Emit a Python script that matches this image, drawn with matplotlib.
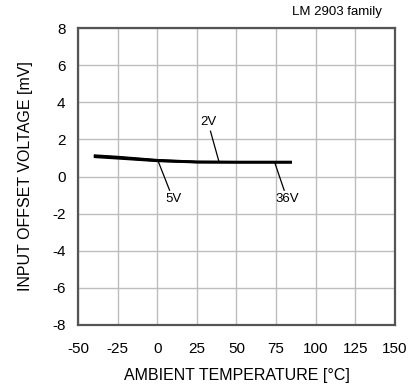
import matplotlib.pyplot as plt

plt.rcParams['font.family'] = ['Liberation Sans', 'DejaVu Sans']
plt.rcParams['axes.unicode_minus'] = False

# input offset voltage vs ambient temperature, one curve per supply voltage
temp = [-40, -25, 0, 25, 50, 85]
vio_2v = [1.10, 1.02, 0.86, 0.78, 0.77, 0.77]
vio_5v = [1.06, 0.98, 0.84, 0.77, 0.77, 0.77]
vio_36v = [1.13, 1.05, 0.88, 0.79, 0.78, 0.78]

xticks = [-50, -25, 0, 25, 50, 75, 100, 125, 150]
yticks = [-8, -6, -4, -2, 0, 2, 4, 6, 8]

fig = plt.figure(figsize=(4.14, 3.9), dpi=100)
ax = fig.add_axes([78/414, 1 - 325/390, 317/414, 297/390])

for v in (vio_2v, vio_5v, vio_36v):
    ax.plot(temp, v, color='black', lw=1.8, solid_capstyle='butt')

ax.set_xlim(-50, 150)
ax.set_ylim(-8, 8)
ax.set_xticks(xticks)
ax.set_yticks(yticks)
ax.grid(True, color='#bdbdbd', lw=1.0)
ax.set_axisbelow(True)
ax.tick_params(length=0, labelsize=11)
ax.tick_params(axis='x', pad=12)
ax.tick_params(axis='y', pad=9)
for s in ax.spines.values():
    s.set_color('#555555')
    s.set_linewidth(1.6)

ax.set_xlabel('AMBIENT TEMPERATURE [\u00b0C]', fontsize=11.5, labelpad=9)
ax.set_ylabel('INPUT OFFSET VOLTAGE [mV]', fontsize=11.5, labelpad=14)

arrow = dict(arrowstyle='-', color='black', lw=0.9, shrinkA=0, shrinkB=0)
ax.annotate('2V', xy=(39, 0.78), xytext=(32, 2.6), fontsize=9.5,
            ha='center', va='bottom', arrowprops=arrow)
ax.annotate('5V', xy=(0.5, 0.84), xytext=(10, -0.9), fontsize=9.5,
            ha='center', va='top', arrowprops=arrow)
ax.annotate('36V', xy=(74, 0.78), xytext=(82, -0.9), fontsize=9.5,
            ha='center', va='top', arrowprops=arrow)

fig.text(337/414, 1 - 12/390, 'LM 2903 family', fontsize=9.5,
         ha='center', va='center')

fig.savefig('out.png', dpi=100)
